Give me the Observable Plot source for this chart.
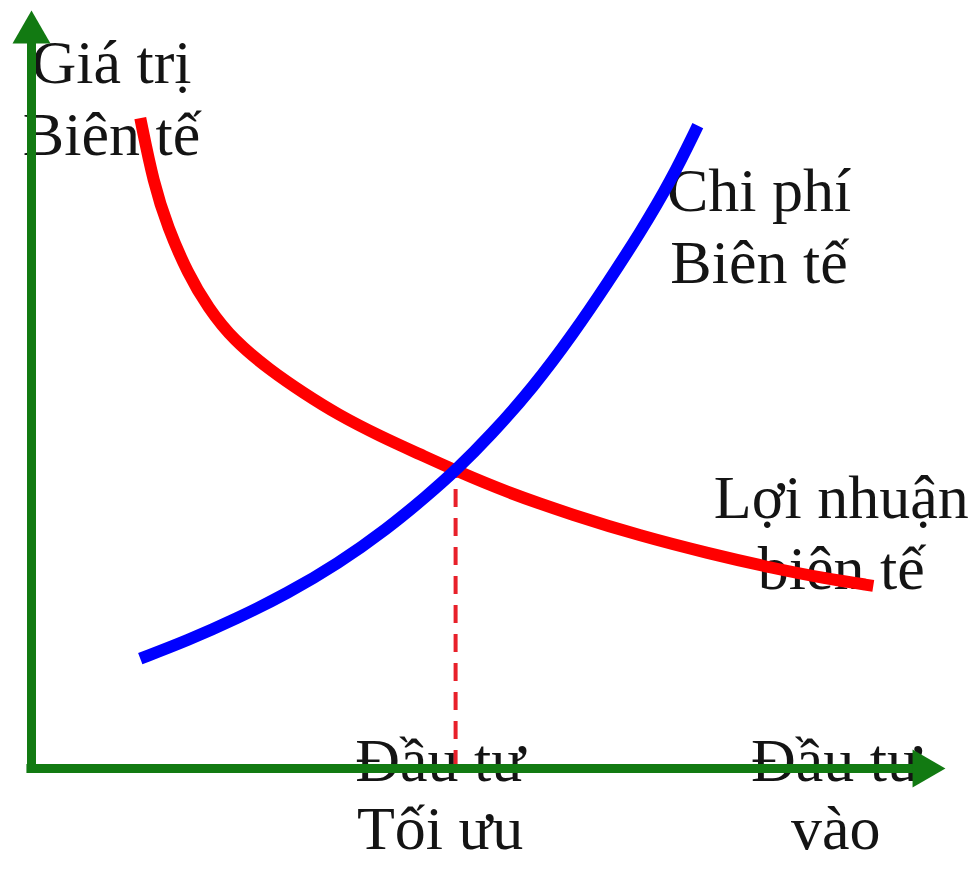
<!DOCTYPE html>
<html>
<head>
<meta charset="utf-8">
<script src="https://cdn.jsdelivr.net/npm/d3@7"></script>
<script src="https://cdn.jsdelivr.net/npm/@observablehq/plot@0.6"></script>
<style>
  html, body { margin: 0; padding: 0; background: #fff; }
  #chart svg { display: block; }
</style>
</head>
<body>
<div id="chart"></div>
<script>
// Investment level (x) for each sampled point of the benefit curve
const benefitX = [11.9, 13.35, 14.9, 17.1, 19.3, 22.1, 26.15, 29.8, 33.5, 38.2, 42.6, 46.4, 52.1, 59.3, 66.6, 74.0, 81.2, 86.7, 92.1];
// Marginal benefit ("Lợi nhuận biên tế") values
const benefitY = [85.8, 77.2, 71.4, 65.3, 60.8, 56.5, 52.5, 49.5, 46.7, 43.8, 41.4, 39.3, 36.4, 33.4, 30.7, 28.4, 26.4, 25.1, 24.1];
// Investment level for the cost curve
const costX = [11.9, 17.1, 22.5, 28.0, 33.5, 38.9, 43.3, 46.4, 50.2, 54.9, 59.3, 63.0, 66.6, 69.9, 72.9];
// Marginal cost ("Chi phí biên tế") values
const costY = [14.5, 16.9, 19.8, 23.1, 27.0, 31.6, 36.0, 39.3, 43.9, 50.3, 57.4, 64.0, 70.7, 77.4, 84.8];
// Optimal investment (intersection)
const optimumX = [46.4];
const optimumY = [39.3];
// Axis extents
const xMax = 100;
const yMax = 100;
// Label texts
const yAxisLabel = ["Giá trị", "Biên tế"];
const costLabel = ["Chi phí", "Biên tế"];
const benefitLabel = ["Lợi nhuận", "biên tế"];
const optimumLabel = ["Đầu tư", "Tối ưu"];
const xAxisLabel = ["Đầu tư", "vào"];

const benefit = benefitX.map((x, i) => ({x, y: benefitY[i]}));
const cost = costX.map((x, i) => ({x, y: costY[i]}));

// layout of labels (anchor x, baseline y of each line, in chart units)
const labelLayout = [
  {lines: yAxisLabel, x: 8.75, y: [90.4, 80.9]},
  {lines: costLabel, x: 79.6, y: [73.6, 64.1]},
  {lines: benefitLabel, x: 88.6, y: [33.0, 23.7]},
  {lines: optimumLabel, x: 44.7, y: [-1.6, -10.6]},
  {lines: xAxisLabel, x: 88.0, y: [-1.6, -10.6]}
];
const labelRows = labelLayout.flatMap(l => l.lines.map((t, i) => ({text: t, x: l.x, y: l.y[i]})));

const green = "#127a12";
const font = "'Liberation Serif', 'Times New Roman', serif";

const chart = Plot.plot({
  width: 977,
  height: 877,
  margin: 0,
  x: {domain: [0, xMax], range: [31, 945], axis: null},
  y: {domain: [0, yMax], range: [768, 10], axis: null},
  marks: [
    Plot.text(labelRows, {
      x: "x", y: "y", text: "text",
      fontFamily: font, fontSize: 62, fill: "#141414",
      textAnchor: "middle", lineAnchor: "bottom"
    }),
    Plot.ruleX(optimumX, {
      x: d => d, y1: 0, y2: optimumY[0],
      stroke: "#e8202a", strokeWidth: 4, strokeDasharray: "18,11"
    }),
    Plot.line(benefit, {
      x: "x", y: "y", curve: "basis",
      stroke: "#ff0000", strokeWidth: 12, strokeLinecap: "butt"
    }),
    Plot.line(cost, {
      x: "x", y: "y", curve: "basis",
      stroke: "#0000ff", strokeWidth: 12, strokeLinecap: "butt"
    }),
    Plot.ruleX([0], {y1: -0.6, y2: yMax - 4, stroke: green, strokeWidth: 9}),
    Plot.ruleY([0], {x1: -0.5, x2: xMax - 3, stroke: green, strokeWidth: 9}),
    Plot.dot([{x: 0, y: yMax}], {
      x: "x", y: "y", symbol: "triangle", r: 14.1, fill: green, stroke: null,
      dy: 22
    }),
    Plot.dot([{x: xMax, y: 0}], {
      x: "x", y: "y", symbol: "triangle", r: 14.1, fill: green, stroke: null,
      rotate: 90, dx: -22
    })
  ]
});
document.getElementById("chart").appendChild(chart);
</script>
</body>
</html>
